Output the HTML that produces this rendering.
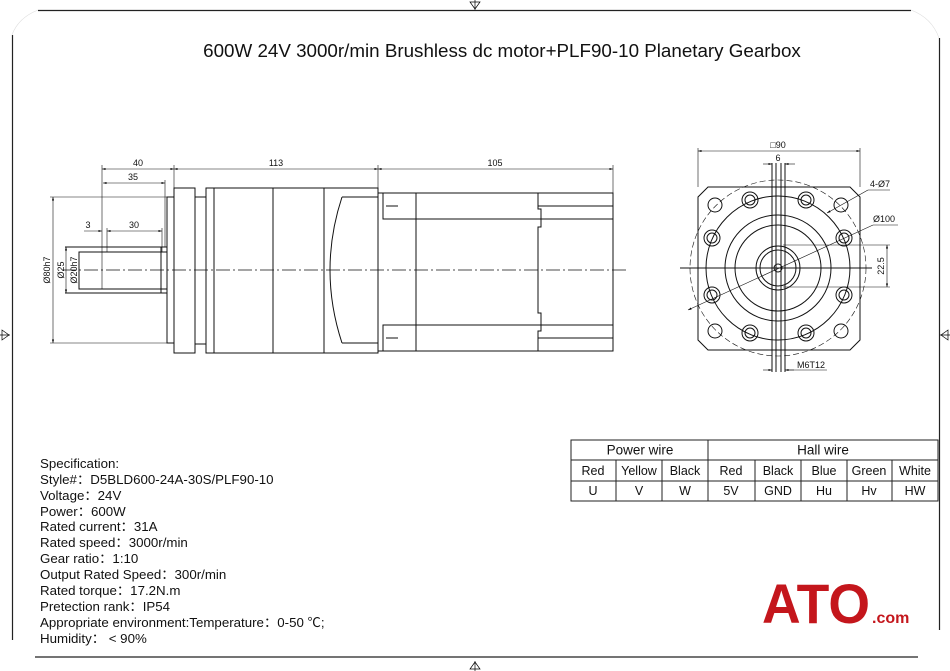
<!DOCTYPE html>
<html><head><meta charset="utf-8"><style>
html,body{margin:0;padding:0;background:#fff;}
svg{display:block;font-family:"Liberation Sans",Arial,sans-serif;}
</style></head><body>
<svg width="950" height="671" viewBox="0 0 950 671" xmlns="http://www.w3.org/2000/svg">
<defs>
<marker id="a" viewBox="0 0 10 10" refX="10" refY="5" markerWidth="6" markerHeight="6" orient="auto-start-reverse"><path d="M0,2 L10,5 L0,8 z" fill="#000"/></marker>
</defs>
<g stroke="#222" stroke-width="1.2" fill="none">
<line x1="38" y1="10.5" x2="911" y2="10.5"/>
<line x1="12.5" y1="35" x2="12.5" y2="640"/>
<line x1="939.5" y1="38" x2="939.5" y2="630"/>
<line x1="35" y1="657" x2="918" y2="657"/>
<path d="M38,10 Q18,18 12,35" stroke="#ddd" stroke-width="0.6"/>
<path d="M911,10 Q932,18 939,38" stroke="#ddd" stroke-width="0.6"/>
</g>
<g stroke="#000" stroke-width="0.7" fill="none">
<path d="M470,2 L480,2 L475,9 z M475,0 L475,10"/>
<path d="M470,669 L480,669 L475,662 z M475,661 L475,671"/>
<path d="M2,330 L2,340 L9,335 z M0,335 L10,335"/>
<path d="M948,330 L948,340 L941,335 z M940,335 L950,335"/>
</g>
<text x="502" y="57" font-size="18.8" text-anchor="middle" fill="#111">600W 24V 3000r/min Brushless dc motor+PLF90-10 Planetary Gearbox</text>

<g stroke="#111" stroke-width="1" fill="none">
<rect x="79" y="252" width="88" height="37"/>
<line x1="65" y1="247" x2="167" y2="247"/>
<line x1="65" y1="293" x2="167" y2="293"/>
<line x1="161" y1="247" x2="161" y2="293"/>
<rect x="167" y="197" width="7" height="146"/>
<rect x="174" y="188" width="21" height="165"/>
<rect x="195" y="197" width="11" height="147"/>
<rect x="206" y="188" width="172" height="165"/>
<line x1="214" y1="188" x2="214" y2="353"/>
<line x1="273" y1="188" x2="273" y2="353"/>
<line x1="324" y1="188" x2="324" y2="353"/>
<path d="M342,197 Q318,270 342,343"/>
<line x1="342" y1="197" x2="378" y2="197"/>
<line x1="342" y1="343" x2="378" y2="343"/>
<rect x="378" y="193" width="235" height="158"/>
<rect x="383" y="193" width="230" height="26"/>
<rect x="383" y="325" width="230" height="26"/>
<line x1="416" y1="193" x2="416" y2="351"/>
<path d="M538,193 L538,209 L541,209 L541,227 L538,227 L538,313 L541,313 L541,331 L538,331 L538,351"/>
<line x1="538" y1="206" x2="613" y2="206"/>
<line x1="538" y1="338" x2="613" y2="338"/>
<line x1="386" y1="206" x2="398" y2="206"/>
<line x1="386" y1="338" x2="398" y2="338"/>
</g>
<line x1="62" y1="270" x2="626" y2="270" stroke="#111" stroke-width="0.8" stroke-dasharray="14,3,2,3"/>
<g stroke="#111" stroke-width="0.6" fill="none">
<line x1="102" y1="165" x2="102" y2="289"/>
<line x1="174" y1="165" x2="174" y2="188"/>
<line x1="378" y1="165" x2="378" y2="188"/>
<line x1="613" y1="165" x2="613" y2="193"/>
<line x1="165" y1="180" x2="165" y2="247"/>
<line x1="162" y1="228" x2="162" y2="252"/>
<line x1="107" y1="228" x2="107" y2="252"/>
<line x1="50" y1="197" x2="167" y2="197"/>
<line x1="50" y1="343" x2="167" y2="343"/>
<line x1="102" y1="169" x2="174" y2="169" marker-start="url(#a)" marker-end="url(#a)"/>
<line x1="103" y1="183" x2="165" y2="183" marker-start="url(#a)" marker-end="url(#a)"/>
<line x1="174" y1="169" x2="378" y2="169" marker-start="url(#a)" marker-end="url(#a)"/>
<line x1="378" y1="169" x2="613" y2="169" marker-start="url(#a)" marker-end="url(#a)"/>
<line x1="84" y1="231" x2="102" y2="231" marker-end="url(#a)"/>
<line x1="107" y1="231" x2="162" y2="231" marker-start="url(#a)" marker-end="url(#a)"/>
<line x1="53" y1="197" x2="53" y2="343" marker-start="url(#a)" marker-end="url(#a)"/>
<line x1="66" y1="247" x2="66" y2="293" marker-start="url(#a)" marker-end="url(#a)"/>
<line x1="79" y1="252" x2="79" y2="289"/>
</g>
<g font-size="9" fill="#111" text-anchor="middle">
<text x="138" y="166">40</text>
<text x="133" y="180">35</text>
<text x="276" y="166">113</text>
<text x="495" y="166">105</text>
<text x="88" y="228">3</text>
<text x="134" y="228">30</text>
<text transform="translate(50,270) rotate(-90)">Ø80h7</text>
<text transform="translate(64,270) rotate(-90)">Ø25</text>
<text transform="translate(77,270) rotate(-90)">Ø20h7</text>
</g>

<g stroke="#111" stroke-width="1" fill="none">
<path d="M708,187 L850,187 L860,197 L860,340 L850,350 L708,350 L698,340 L698,197 z"/>
<circle cx="778" cy="268" r="88" stroke-dasharray="6,3" stroke-width="0.6"/>
<circle cx="778" cy="268" r="72"/>
<circle cx="778" cy="268" r="53"/>
<circle cx="778" cy="268" r="43"/>
<circle cx="778" cy="268" r="22"/>
<circle cx="778" cy="268" r="18"/>
<circle cx="778" cy="268" r="4"/>
<circle cx="715" cy="205" r="7"/><circle cx="841" cy="205" r="7"/>
<circle cx="715" cy="331" r="7"/><circle cx="841" cy="331" r="7"/>
<g>
<circle cx="750" cy="200" r="8"/><circle cx="750" cy="200" r="5"/>
<circle cx="806" cy="200" r="8"/><circle cx="806" cy="200" r="5"/>
<circle cx="712" cy="238" r="8"/><circle cx="712" cy="238" r="5"/>
<circle cx="844" cy="238" r="8"/><circle cx="844" cy="238" r="5"/>
<circle cx="712" cy="295" r="8"/><circle cx="712" cy="295" r="5"/>
<circle cx="844" cy="295" r="8"/><circle cx="844" cy="295" r="5"/>
<circle cx="750" cy="333" r="8"/><circle cx="750" cy="333" r="5"/>
<circle cx="806" cy="333" r="8"/><circle cx="806" cy="333" r="5"/>
</g>
<line x1="772" y1="163" x2="772" y2="372"/>
<line x1="776" y1="163" x2="776" y2="372"/>
<line x1="781" y1="163" x2="781" y2="372"/>
<line x1="785" y1="163" x2="785" y2="372"/>
<line x1="680" y1="268" x2="872" y2="268"/>
</g>
<g stroke="#111" stroke-width="0.6" fill="none">
<line x1="698" y1="148" x2="698" y2="187"/>
<line x1="860" y1="148" x2="860" y2="187"/>
<line x1="698" y1="151" x2="860" y2="151" marker-start="url(#a)" marker-end="url(#a)"/>
<line x1="763" y1="164" x2="772" y2="164" marker-end="url(#a)"/>
<line x1="795" y1="164" x2="785" y2="164" marker-end="url(#a)"/>
<line x1="688" y1="310" x2="873" y2="225" marker-start="url(#a)"/>
<line x1="873" y1="225" x2="898" y2="225"/>
<line x1="827" y1="213" x2="868" y2="190" marker-start="url(#a)"/>
<line x1="868" y1="190" x2="890" y2="190"/>
<line x1="783" y1="245" x2="890" y2="245"/>
<line x1="783" y1="287" x2="890" y2="287"/>
<line x1="887" y1="245" x2="887" y2="287" marker-start="url(#a)" marker-end="url(#a)"/>
<line x1="763" y1="370" x2="772" y2="370" marker-end="url(#a)"/>
<line x1="794" y1="370" x2="785" y2="370" marker-end="url(#a)"/>
<line x1="785" y1="370" x2="827" y2="370"/>
</g>
<g font-size="9" fill="#111">
<text x="778" y="148" text-anchor="middle">□90</text>
<text x="778" y="161" text-anchor="middle">6</text>
<text x="870" y="187">4-Ø7</text>
<text x="873" y="222">Ø100</text>
<text transform="translate(884,266) rotate(-90)" text-anchor="middle">22.5</text>
<text x="797" y="368">M6T12</text>
</g>

<g stroke="#222" stroke-width="1" fill="none">
<rect x="571" y="440" width="367" height="61"/>
<line x1="571" y1="460" x2="938" y2="460"/>
<line x1="571" y1="481" x2="938" y2="481"/>
<line x1="708" y1="440" x2="708" y2="501"/>
<line x1="616" y1="460" x2="616" y2="501"/>
<line x1="662" y1="460" x2="662" y2="501"/>
<line x1="755" y1="460" x2="755" y2="501"/>
<line x1="801" y1="460" x2="801" y2="501"/>
<line x1="847" y1="460" x2="847" y2="501"/>
<line x1="892" y1="460" x2="892" y2="501"/>
</g>
<g font-size="12.5" fill="#111" text-anchor="middle">
<text x="640" y="454.5" font-size="13.5">Power wire</text>
<text x="823" y="454.5" font-size="13.5">Hall wire</text>
<text x="593" y="475">Red</text><text x="639" y="475">Yellow</text><text x="685" y="475">Black</text>
<text x="731" y="475">Red</text><text x="778" y="475">Black</text><text x="824" y="475">Blue</text>
<text x="869" y="475">Green</text><text x="915" y="475">White</text>
<text x="593" y="495">U</text><text x="639" y="495">V</text><text x="685" y="495">W</text>
<text x="731" y="495">5V</text><text x="778" y="495">GND</text><text x="824" y="495">Hu</text>
<text x="869" y="495">Hv</text><text x="915" y="495">HW</text>
</g>

<g font-size="13.3" fill="#111" font-family="'Liberation Sans','Noto Sans CJK SC',sans-serif">
<text x="40" y="468">Specification:</text>
<text x="40" y="484">Style#：D5BLD600-24A-30S/PLF90-10</text>
<text x="40" y="500">Voltage：24V</text>
<text x="40" y="516">Power：600W</text>
<text x="40" y="531">Rated current：31A</text>
<text x="40" y="547">Rated speed：3000r/min</text>
<text x="40" y="563">Gear ratio：1:10</text>
<text x="40" y="579">Output Rated Speed：300r/min</text>
<text x="40" y="595">Rated torque：17.2N.m</text>
<text x="40" y="611">Pretection rank：IP54</text>
<text x="40" y="627">Appropriate environment:Temperature：0-50 ℃;</text>
<text x="40" y="643">Humidity： &lt; 90%</text>
</g>

<text x="762" y="623" font-size="56" font-weight="bold" fill="#c4161c" textLength="108" lengthAdjust="spacingAndGlyphs">ATO</text>
<text x="872" y="623" font-size="16" font-weight="bold" fill="#c4161c">.com</text>
</svg>
</body></html>
